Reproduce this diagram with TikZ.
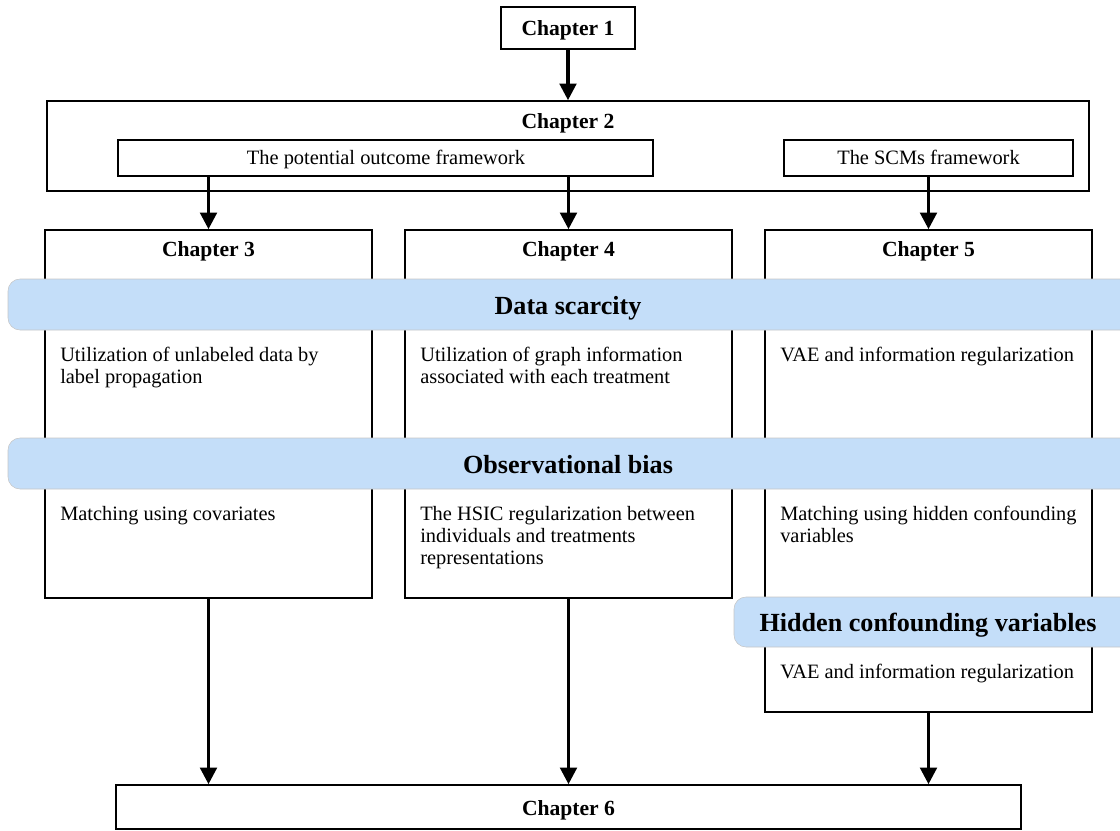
\documentclass[tikz,border=0pt]{standalone}
\usepackage{fontspec}
\setmainfont{Liberation Serif}
\usetikzlibrary{fit,arrows.meta}
\definecolor{bandfill}{HTML}{C4DEF9}
\begin{document}
\begin{tikzpicture}[x=0.75pt,y=-0.75pt,
  box/.style={draw, line width=1.2pt, inner sep=0pt},
  arr/.style={line width=2.4pt, -{Triangle[length=12.5pt,width=12.5pt]}},
  band/.style={fill=bandfill, draw=gray!45, line width=0.4pt, rounded corners=9pt},
  txt/.style={font=\fontsize{15.3}{16.5}\selectfont, inner sep=0pt, align=left, anchor=base west},
  ttl/.style={font=\fontsize{16.2}{18}\selectfont\bfseries, inner sep=0pt, anchor=base},
  bandtxt/.style={font=\fontsize{19.6}{22}\selectfont\bfseries, inner sep=0pt, anchor=base}]
\useasboundingbox (0,0) rectangle (1120,831);
\clip (0,0) rectangle (1120,831);
% boxes
\node[box, fit={(501,7) (635,49)}] (c1) {};
\node[box, fit={(47,101) (1089,191)}] (c2) {};
\node[box, fit={(118,140) (653,176)}] (pof) {};
\node[box, fit={(784,140) (1073,176)}] (scm) {};
\node[box, fit={(45,230) (372,598)}] (c3) {};
\node[box, fit={(405,230) (732,598)}] (c4) {};
\node[box, fit={(765,230) (1092,712)}] (c5) {};
\node[box, fit={(116,785) (1021,829)}] (c6) {};
% titles
\node[ttl] (t1) at (568,36) {Chapter 1};
\node[ttl] (t2) at (568,129) {Chapter 2};
\node[ttl] (t3) at (208.5,256) {Chapter 3};
\node[ttl] (t4) at (568.5,256) {Chapter 4};
\node[ttl] (t5) at (928.5,256) {Chapter 5};
\node[ttl] (t6) at (568.5,815) {Chapter 6};
\node[txt, anchor=base] (tpof) at (386,165) {The potential outcome framework};
\node[txt, anchor=base] (tscm) at (928.5,165) {The SCMs framework};
% bands
\node[band, fit={(8,279) (1140,330)}, inner sep=0pt] (b1) {};
\node[bandtxt] (bt1) at (568,314) {Data scarcity};
\node[band, fit={(8,438) (1140,489)}, inner sep=0pt] (b2) {};
\node[bandtxt] (bt2) at (568,473) {Observational bias};
\node[band, fit={(734,597) (1140,647)}, inner sep=0pt] (b3) {};
\node[bandtxt] (bt3) at (928,631) {Hidden confounding variables};
% texts (anchored at the baseline of the last line; lines 22px apart)
\node[txt] (x31) at (60,383) {Utilization of unlabeled data by\\label propagation};
\node[txt] (x41) at (420,383) {Utilization of graph information\\associated with each treatment};
\node[txt] (x51) at (780,361) {VAE and information regularization};
\node[txt] (x32) at (60,520) {Matching using covariates};
\node[txt] (x42) at (420,564) {The HSIC regularization between\\individuals and treatments\\representations};
\node[txt] (x52) at (780,542) {Matching using hidden confounding\\variables};
\node[txt] (x53) at (780,678) {VAE and information regularization};
% arrows
\draw[arr] (c1.south) -- (c2.north -| c1.south);
\draw[arr] (pof.south -| c3.north) -- (c3.north);
\draw[arr] (pof.south -| c4.north) -- (c4.north);
\draw[arr] (scm.south -| c5.north) -- (c5.north);
\draw[arr] (c3.south) -- (c6.north -| c3.south);
\draw[arr] (c4.south) -- (c6.north -| c4.south);
\draw[arr] (c5.south) -- (c6.north -| c5.south);
\end{tikzpicture}
\end{document}
